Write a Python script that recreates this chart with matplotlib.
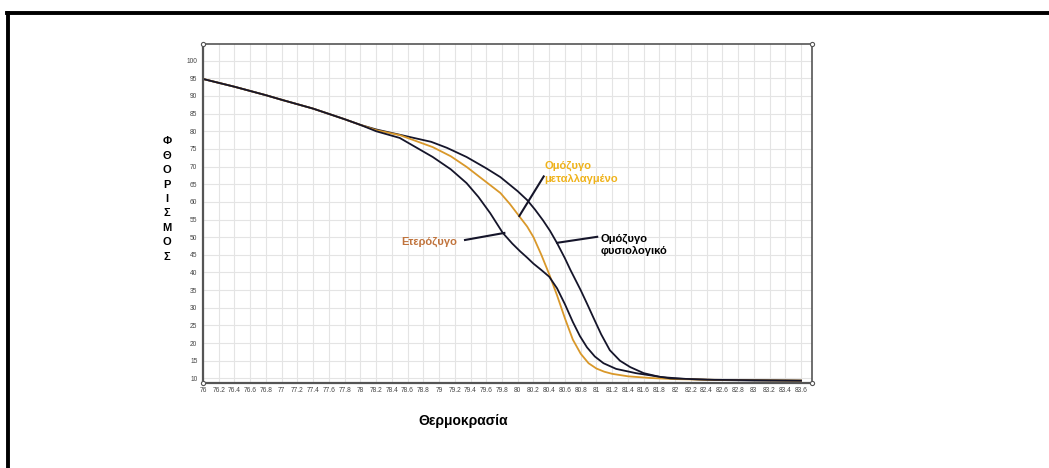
import matplotlib
matplotlib.use("Agg")
import matplotlib.pyplot as plt
from matplotlib.lines import Line2D
import numpy as np

plt.rcParams['font.family'] = ['Liberation Sans', 'DejaVu Sans']

# melting curves (temperature, fluorescence)
common_t = [76.0, 76.4, 76.8, 77.0, 77.4, 77.8, 78.0]
common_f = [94.8, 92.6, 90.2, 88.9, 86.4, 83.4, 81.8]

normal_t = [78.2, 78.5, 78.9, 79.1, 79.35, 79.6, 79.78, 80.0, 80.12, 80.22, 80.32,
            80.41, 80.5, 80.6, 80.67, 80.8, 80.88, 80.96, 81.06, 81.17, 81.3,
            81.43, 81.6, 81.81, 82.1, 82.4, 83.0, 83.6]
normal_f = [80.5, 79.0, 77.0, 75.3, 72.7, 69.5, 67.0, 63.0, 60.5, 57.8, 54.8,
            51.8, 48.3, 44.0, 40.7, 35.0, 31.2, 27.3, 22.5, 18.0, 15.0,
            13.2, 11.5, 10.4, 9.9, 9.6, 9.4, 9.3]

mutant_t = [78.2, 78.5, 78.92, 79.15, 79.35, 79.6, 79.78, 79.9, 80.02, 80.12, 80.2,
            80.3, 80.4, 80.5, 80.6, 80.7, 80.8, 80.9, 81.0, 81.1, 81.2, 81.4,
            81.7, 82.0, 82.5, 83.6]
mutant_f = [80.3, 78.9, 75.5, 72.9, 69.9, 65.6, 62.5, 59.4, 55.9, 53.0, 50.0,
            45.0, 39.5, 33.5, 27.0, 21.0, 17.0, 14.3, 12.8, 11.9, 11.3, 10.6,
            10.1, 9.8, 9.6, 9.4]

hetero_t = [78.2, 78.5, 78.92, 79.15, 79.35, 79.5, 79.65, 79.81, 79.93, 80.03, 80.12,
            80.2, 80.3, 80.4, 80.5, 80.6, 80.7, 80.79, 80.88, 80.98, 81.09,
            81.25, 81.5, 81.94, 82.5, 83.6]
hetero_f = [80.0, 78.1, 72.7, 69.2, 65.3, 61.4, 56.8, 51.2, 48.2, 46.0, 44.2,
            42.5, 40.7, 38.8, 35.5, 31.0, 26.0, 22.0, 18.8, 16.2, 14.3,
            12.7, 11.5, 10.0, 9.6, 9.4]

x_ticks = np.round(np.arange(76.0, 83.61, 0.2), 1)
y_ticks = list(range(10, 101, 5))

navy = "#15152a"
orange = "#d9982a"

fig = plt.figure(figsize=(10.49, 4.68), dpi=100)
ax = fig.add_axes([0.1935, 0.1816, 0.5806, 0.7244])

ax.plot(common_t + normal_t, common_f + normal_f, color=navy, lw=1.3)
ax.plot(common_t + mutant_t, common_f + mutant_f, color=orange, lw=1.3)
ax.plot(common_t + hetero_t, common_f + hetero_f, color=navy, lw=1.3)

ax.set_xlim(76, 83.74)
ax.set_ylim(8.7, 104.7)
ax.set_xticks(x_ticks)
ax.set_xticklabels(["%g" % v for v in x_ticks])
ax.set_yticks(y_ticks)
ax.tick_params(length=0, labelsize=4.8, labelcolor="#444444")
ax.tick_params(axis='x', pad=3)
ax.tick_params(axis='y', pad=4)
ax.grid(True, color="#e4e4e4", lw=0.8)
ax.set_axisbelow(True)
for s in ax.spines.values():
    s.set_color("#555555")
    s.set_linewidth(1.2)
ax.spines['left'].set_linewidth(1.6)
ax.spines['bottom'].set_linewidth(1.6)

# little corner circles like the original software
for cx, cy in [(0, 0), (1, 0), (0, 1), (1, 1)]:
    ax.plot(cx, cy, 'o', ms=3, mfc='white', mec="#555555", mew=0.8,
            transform=ax.transAxes, clip_on=False, zorder=5)

# annotations
ax.text(80.34, 68.3, "Ομόζυγο\nμεταλλαγμένο", color="#efb21a", fontsize=8,
        fontweight='bold', ha='left', va='center', linespacing=1.3)
ax.plot([80.33, 80.02], [67.2, 56.0], color=navy, lw=1.5)

ax.text(79.23, 48.6, "Ετερόζυγο", color="#c0733c", fontsize=8,
        fontweight='bold', ha='right', va='center')
ax.plot([79.33, 79.83], [49.2, 51.2], color=navy, lw=1.5)

ax.text(81.05, 47.8, "Ομόζυγο\nφυσιολογικό", color="black", fontsize=8,
        fontweight='bold', ha='left', va='center', linespacing=1.3)
ax.plot([80.5, 81.01], [48.4, 50.1], color=navy, lw=1.5)

fig.text(0.159, 0.575, "\n".join("ΦΘΟΡΙΣΜΟΣ"), fontsize=8, fontweight='bold',
         ha='center', va='center', linespacing=1.55)
fig.text(0.442, 0.1004, "Θερμοκρασία", fontsize=10, fontweight='bold',
         ha='center', va='center')

# outer frame (left and top edges only)
fig.add_artist(Line2D([0.0081, 0.0081], [0.0, 0.972], color='black', lw=2.8))
fig.add_artist(Line2D([0.0067, 1.0], [0.972, 0.972], color='black', lw=2.8))

fig.savefig("out.png", dpi=100)
